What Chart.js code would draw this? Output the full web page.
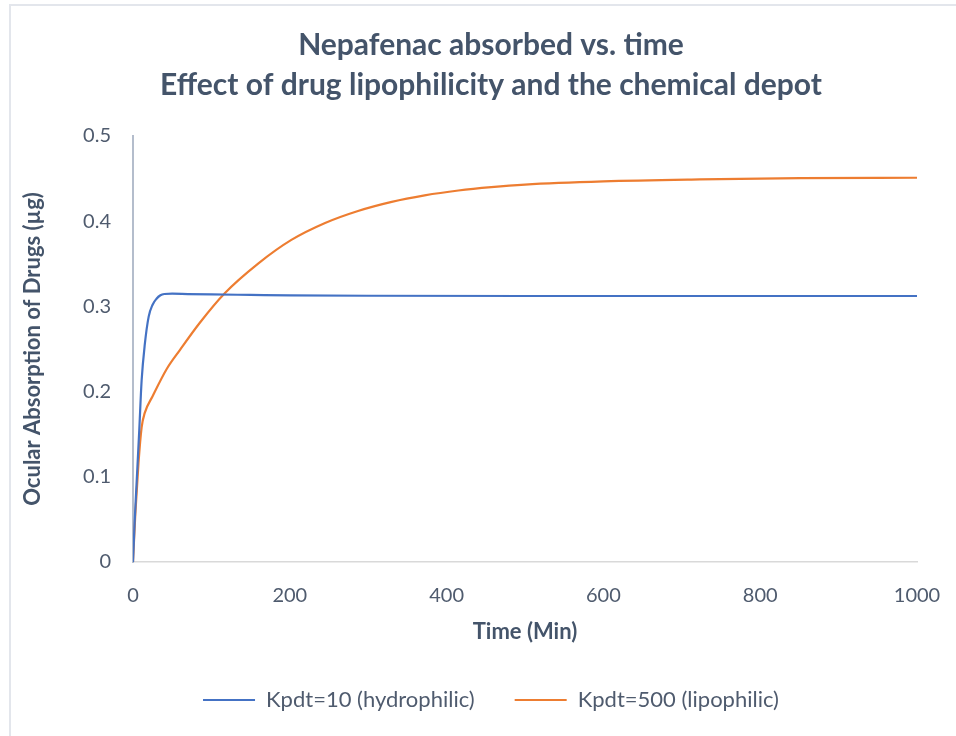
<!DOCTYPE html>
<html>
<head>
<meta charset="utf-8">
<script src="https://cdn.jsdelivr.net/npm/chart.js@4.4.1/dist/chart.umd.min.js"></script>
<style>
  body { margin: 0; background: #fff; }
  #wrap { position: relative; width: 956px; height: 736px; overflow: hidden; }
  #frame { position: absolute; left: 9px; top: 4px; width: 2000px; height: 2000px;
           border-left: 2px solid #e3e6ec; border-top: 2px solid #e3e6ec; pointer-events: none; }
</style>
</head>
<body>
<div id="wrap">
  <canvas id="absorptionChart" width="956" height="736"></canvas>
  <div id="frame"></div>
</div>
<script>
const titleLines = ['Nepafenac absorbed vs. time', 'Effect of drug lipophilicity and the chemical depot'];
const seriesNames = ['Kpdt=10 (hydrophilic)', 'Kpdt=500 (lipophilic)'];

// Kpdt = 10
const hydroTime = [0, 2, 5, 8, 11, 15, 20, 25, 30, 35, 40, 50, 70, 100, 150, 200, 300, 500, 700, 1000];
const hydroAbs = [0, 0.045, 0.1, 0.155, 0.213, 0.255, 0.288, 0.302, 0.309, 0.313, 0.3145, 0.315, 0.3145, 0.314, 0.3135, 0.313, 0.3125, 0.3122, 0.3122, 0.3122];

// Kpdt = 500
const lipoTime = [0, 3, 7, 11, 15, 25, 43, 60, 85, 117, 160, 202, 245, 287, 330, 372, 415, 457, 500, 600, 723, 851, 1000];
const lipoAbs = [0, 0.057, 0.116, 0.158, 0.175, 0.1945, 0.2265, 0.249, 0.2805, 0.3154, 0.3505, 0.378, 0.3979, 0.412, 0.4227, 0.4303, 0.436, 0.44, 0.443, 0.4467, 0.449, 0.4505, 0.451];

const xTicks = [0, 200, 400, 600, 800, 1000];
const yTicks = [0, 0.1, 0.2, 0.3, 0.4, 0.5];

const FONT = 'Lato, "Open Sans", sans-serif';
const TITLE_COLOR = '#44546a';
const TEXT_COLOR = '#4f5b6e';

function toPoints(xs, ys) {
    return xs.map((x, i) => ({ x: x, y: ys[i] }));
}

const ctx = document.getElementById('absorptionChart').getContext('2d');
const absorptionChart = new Chart(ctx, {
    type: 'line',
    data: {
        datasets: [{
            label: seriesNames[0],
            data: toPoints(hydroTime, hydroAbs),
            borderColor: '#4472c4',
            backgroundColor: '#4472c4',
            borderWidth: 2.2,
            pointRadius: 0,
            cubicInterpolationMode: 'monotone',
            fill: false
        }, {
            label: seriesNames[1],
            data: toPoints(lipoTime, lipoAbs),
            borderColor: '#ed7d31',
            backgroundColor: '#ed7d31',
            borderWidth: 2.2,
            pointRadius: 0,
            cubicInterpolationMode: 'monotone',
            fill: false
        }]
    },
    options: {
        responsive: false,
        animation: false,
        layout: {
            padding: { left: 26, right: 0, top: 0, bottom: 15 }
        },
        plugins: {
            title: {
                display: true,
                text: titleLines,
                color: TITLE_COLOR,
                font: { family: FONT, size: 30, weight: 'bold', lineHeight: 1.333 },
                padding: { top: 25, bottom: 31 }
            },
            legend: {
                position: 'bottom',
                labels: {
                    usePointStyle: true,
                    pointStyle: 'line',
                    pointStyleWidth: 52,
                    color: TEXT_COLOR,
                    font: { family: FONT, size: 22 },
                    padding: 40
                }
            },
            tooltip: { enabled: false }
        },
        scales: {
            x: {
                type: 'linear',
                min: xTicks[0],
                max: xTicks[xTicks.length - 1],
                afterBuildTicks: (scale) => { scale.ticks = xTicks.map(v => ({ value: v })); },
                afterFit: (scale) => {
                    scale.height = 87;
                    // room on the right for the last tick label
                    scale.paddingRight = 39;
                },
                grid: { display: false, drawTicks: false },
                border: { display: true, color: '#d9d9d9', width: 1.5 },
                ticks: {
                    color: TEXT_COLOR,
                    font: { family: FONT, size: 20 },
                    padding: 22,
                    maxRotation: 0,
                    callback: (v) => String(v)
                },
                title: {
                    display: true,
                    text: 'Time (Min)',
                    color: TITLE_COLOR,
                    font: { family: FONT, size: 22, weight: 'bold' },
                    padding: { top: 0, bottom: 4 }
                }
            },
            y: {
                min: yTicks[0],
                max: yTicks[yTicks.length - 1],
                afterBuildTicks: (scale) => { scale.ticks = yTicks.map(v => ({ value: v })); },
                afterFit: (scale) => { scale.width = 107; },
                grid: { display: false, drawTicks: false },
                border: { display: true, color: '#b4bdcc', width: 2 },
                ticks: { color: TEXT_COLOR, font: { family: FONT, size: 20 }, padding: 22 },
                title: {
                    display: true,
                    text: 'Ocular Absorption of Drugs (µg)',
                    color: TITLE_COLOR,
                    font: { family: FONT, size: 22, weight: 'bold' },
                    padding: { top: -6, bottom: 0 }
                }
            }
        }
    }
});
</script>
</body>
</html>
